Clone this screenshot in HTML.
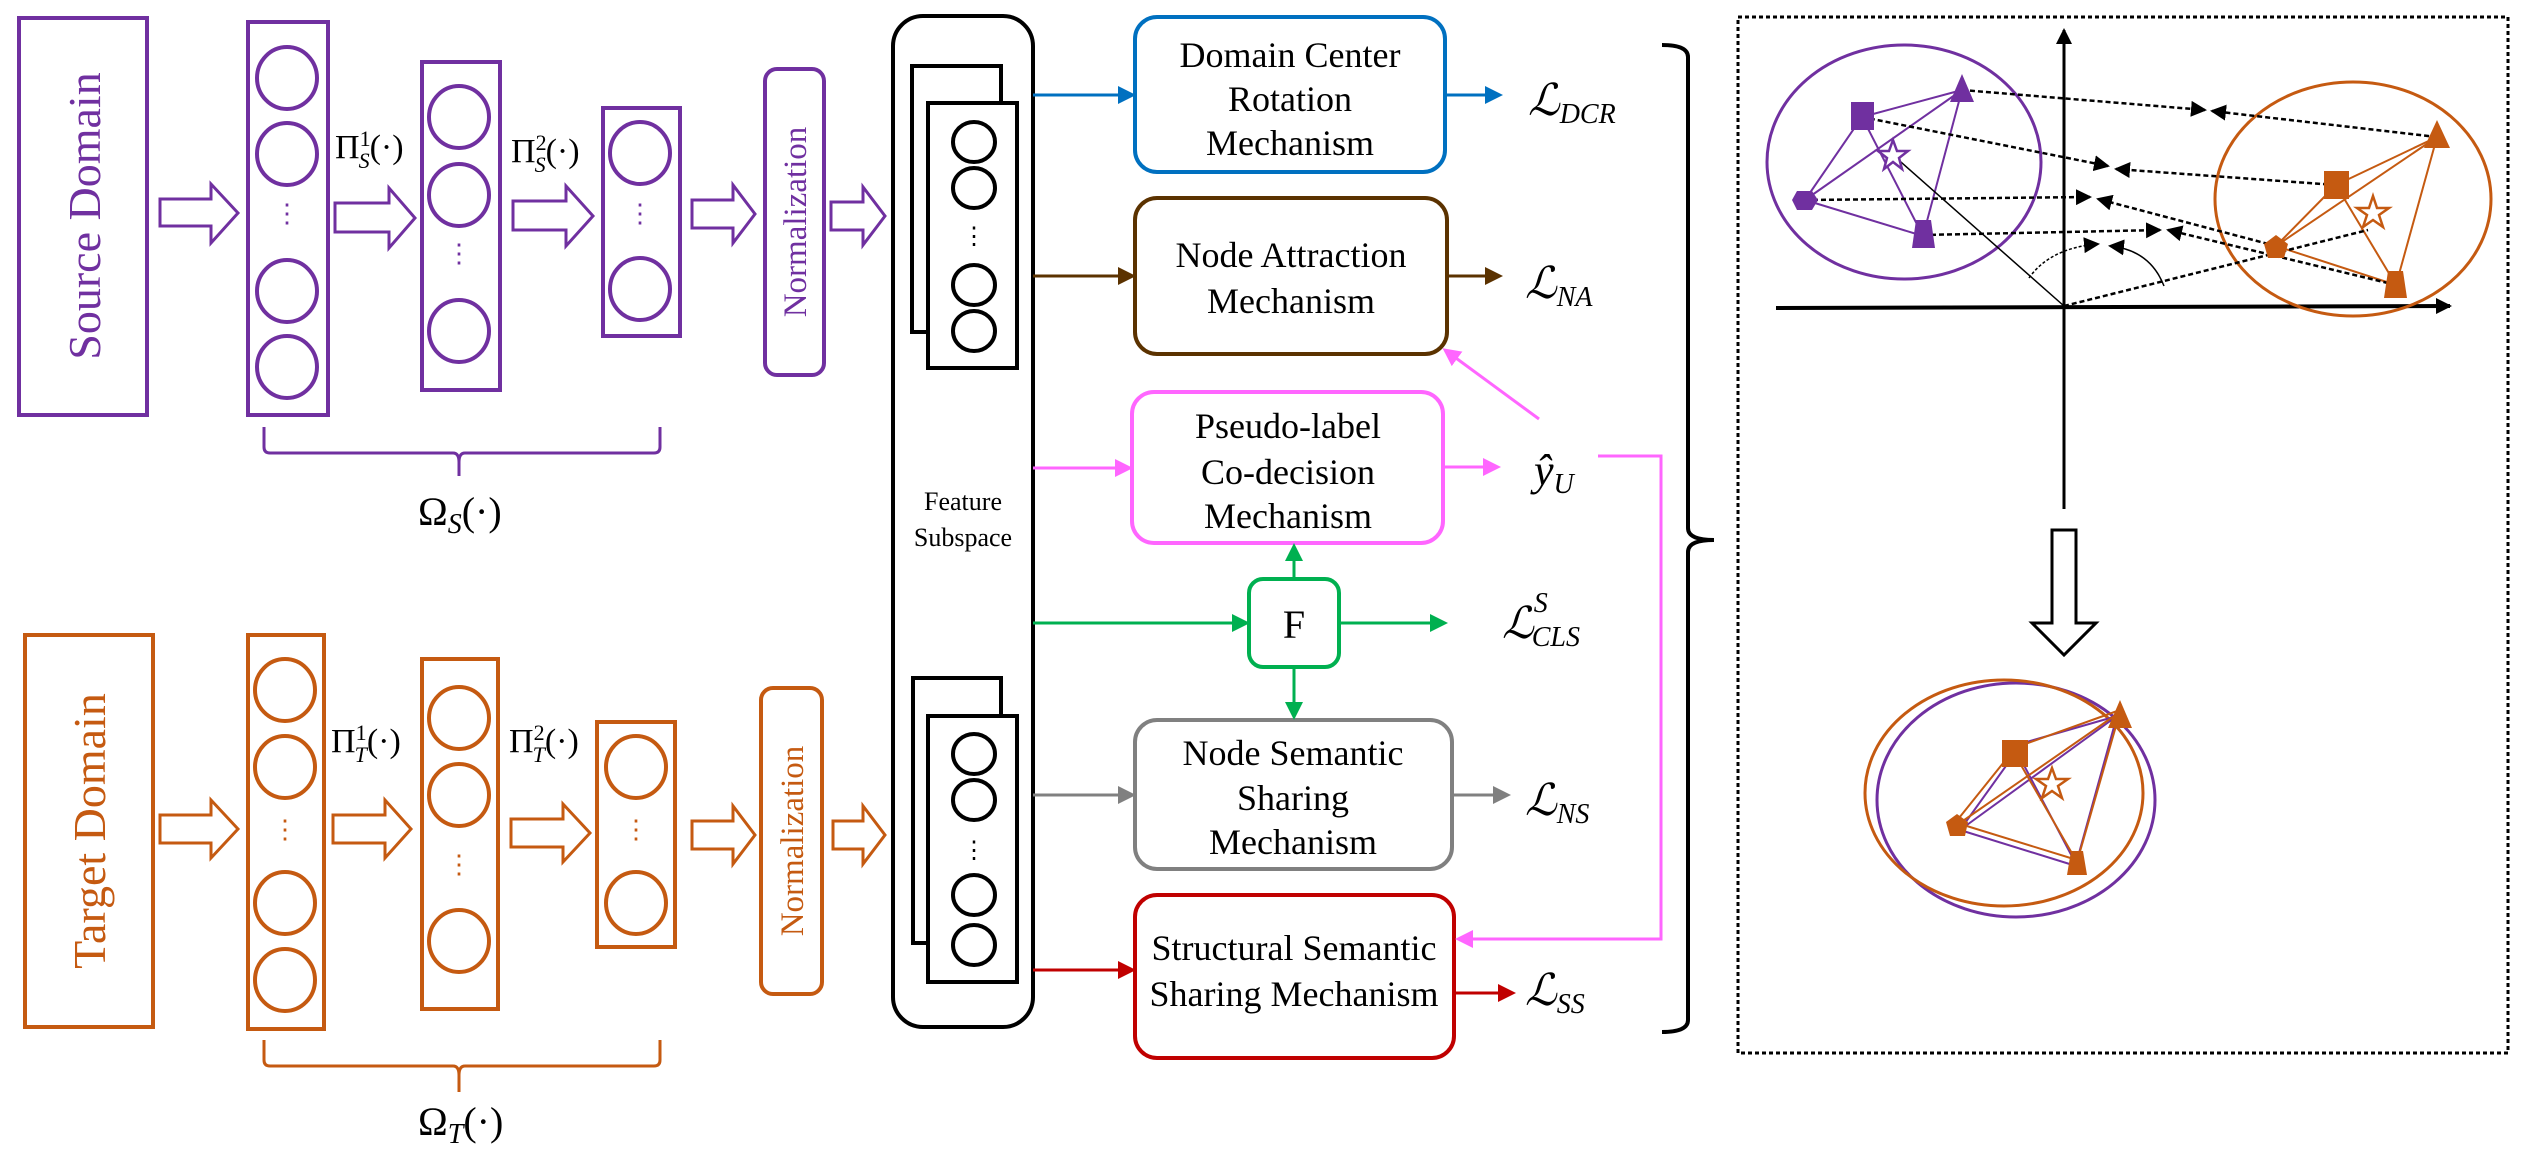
<!DOCTYPE html>
<html><head><meta charset="utf-8"><style>
html,body{margin:0;padding:0;background:#fff;}
svg{display:block;}
.t{font-family:"Liberation Serif","DejaVu Serif",serif;}
</style></head><body>
<svg width="2533" height="1155" viewBox="0 0 2533 1155" xmlns="http://www.w3.org/2000/svg">
<defs>
<marker id="aB" markerWidth="6" markerHeight="6" refX="5" refY="3" orient="auto" markerUnits="strokeWidth"><path d="M0,0 L6,3 L0,6 z" fill="#0070c0"/></marker>
<marker id="aBr" markerWidth="6" markerHeight="6" refX="5" refY="3" orient="auto" markerUnits="strokeWidth"><path d="M0,0 L6,3 L0,6 z" fill="#5b3200"/></marker>
<marker id="aP" markerWidth="6" markerHeight="6" refX="5" refY="3" orient="auto" markerUnits="strokeWidth"><path d="M0,0 L6,3 L0,6 z" fill="#ff66ff"/></marker>
<marker id="aG" markerWidth="6" markerHeight="6" refX="5" refY="3" orient="auto" markerUnits="strokeWidth"><path d="M0,0 L6,3 L0,6 z" fill="#00b050"/></marker>
<marker id="aGr" markerWidth="6" markerHeight="6" refX="5" refY="3" orient="auto" markerUnits="strokeWidth"><path d="M0,0 L6,3 L0,6 z" fill="#808080"/></marker>
<marker id="aR" markerWidth="6" markerHeight="6" refX="5" refY="3" orient="auto" markerUnits="strokeWidth"><path d="M0,0 L6,3 L0,6 z" fill="#c00000"/></marker>
<marker id="aKs" markerWidth="16" markerHeight="16" refX="14" refY="8" orient="auto" markerUnits="userSpaceOnUse"><path d="M0,0 L16,8 L0,16 z" fill="#000"/></marker>
</defs>

<g stroke="#7030a0" stroke-width="4" fill="none">
<rect x="19" y="18" width="128" height="397"/>
<rect x="248" y="22" width="80" height="393"/>
<ellipse cx="287" cy="78" rx="30" ry="31"/><ellipse cx="287" cy="154" rx="30" ry="31"/>
<ellipse cx="287" cy="291" rx="30" ry="31"/><ellipse cx="287" cy="367" rx="30" ry="31"/>
<rect x="422" y="62" width="78" height="328"/>
<ellipse cx="459" cy="117" rx="30" ry="31"/><ellipse cx="459" cy="195" rx="30" ry="31"/><ellipse cx="459" cy="331" rx="30" ry="31"/>
<rect x="603" y="108" width="77" height="228"/>
<ellipse cx="640" cy="153" rx="30" ry="31"/><ellipse cx="640" cy="289" rx="30" ry="31"/>
<rect x="765" y="69" width="59" height="306" rx="12"/>
<g stroke-width="3">
<polygon points="160,199 211,199 211,184 238,213 211,243 211,226 160,226"/>
<polygon points="335,203 389,203 389,188 415,218 389,248 389,232 335,232"/>
<polygon points="513,201 566,201 566,186 593,216 566,246 566,230 513,230"/>
<polygon points="692,200 733,200 733,185 755,214 733,243 733,228 692,228"/>
<polygon points="831,202 863,202 863,187 885,216 863,245 863,230 831,230"/>
</g>
<path d="M264,427 v20 q0,6 6,6 h183 q6,0 6,9 q0,-9 6,-9 h189 q6,0 6,-6 v-20" stroke-width="3"/>
<line x1="459" y1="462" x2="459" y2="476" stroke-width="3"/>
</g>
<g fill="#7030a0" class="t" font-size="26" text-anchor="middle">
<text x="287" y="222">⋮</text><text x="459" y="262">⋮</text><text x="640" y="222">⋮</text>
</g>
<text class="t" transform="translate(100,216) rotate(-90)" text-anchor="middle" font-size="46" fill="#7030a0">Source Domain</text>
<text class="t" transform="translate(806,222) rotate(-90)" text-anchor="middle" font-size="33" fill="#7030a0">Normalization</text>
<text class="t" x="335" y="158" font-size="34">Π<tspan font-size="22" dy="-12">1</tspan><tspan font-size="22" font-style="italic" dx="-12" dy="22">S</tspan><tspan dy="-10">(·)</tspan></text>
<text class="t" x="511" y="162" font-size="34">Π<tspan font-size="22" dy="-12">2</tspan><tspan font-size="22" font-style="italic" dx="-12" dy="22">S</tspan><tspan dy="-10">(·)</tspan></text>
<text class="t" x="418" y="525" font-size="40">Ω<tspan font-size="28" font-style="italic" dy="8">S</tspan><tspan dy="-8">(·)</tspan></text>

<g stroke="#c55a11" stroke-width="4" fill="none">
<rect x="25" y="635" width="128" height="392"/>
<rect x="248" y="635" width="76" height="394"/>
<ellipse cx="285" cy="690" rx="30" ry="31"/><ellipse cx="285" cy="767" rx="30" ry="31"/>
<ellipse cx="285" cy="903" rx="30" ry="31"/><ellipse cx="285" cy="980" rx="30" ry="31"/>
<rect x="422" y="659" width="76" height="350"/>
<ellipse cx="459" cy="718" rx="30" ry="31"/><ellipse cx="459" cy="795" rx="30" ry="31"/><ellipse cx="459" cy="941" rx="30" ry="31"/>
<rect x="597" y="722" width="78" height="225"/>
<ellipse cx="636" cy="767" rx="30" ry="31"/><ellipse cx="636" cy="903" rx="30" ry="31"/>
<rect x="761" y="688" width="61" height="306" rx="12"/>
<g stroke-width="3">
<polygon points="160,815 211,815 211,800 238,829 211,858 211,843 160,843"/>
<polygon points="333,815 385,815 385,800 411,829 385,858 385,843 333,843"/>
<polygon points="511,819 563,819 563,804 590,833 563,862 563,847 511,847"/>
<polygon points="692,821 733,821 733,806 755,835 733,864 733,849 692,849"/>
<polygon points="833,821 863,821 863,806 885,835 863,864 863,849 833,849"/>
</g>
<path d="M264,1040 v20 q0,6 6,6 h183 q6,0 6,9 q0,-9 6,-9 h189 q6,0 6,-6 v-20" stroke-width="3"/>
<line x1="459" y1="1075" x2="459" y2="1092" stroke-width="3"/>
</g>
<g fill="#c55a11" class="t" font-size="26" text-anchor="middle">
<text x="285" y="838">⋮</text><text x="459" y="873">⋮</text><text x="636" y="838">⋮</text>
</g>
<text class="t" transform="translate(105,831) rotate(-90)" text-anchor="middle" font-size="46" fill="#c55a11">Target Domain</text>
<text class="t" transform="translate(803,841) rotate(-90)" text-anchor="middle" font-size="33" fill="#c55a11">Normalization</text>
<text class="t" x="331" y="752" font-size="34">Π<tspan font-size="22" dy="-12">1</tspan><tspan font-size="22" font-style="italic" dx="-12" dy="22">T</tspan><tspan dy="-10">(·)</tspan></text>
<text class="t" x="509" y="752" font-size="34">Π<tspan font-size="22" dy="-12">2</tspan><tspan font-size="22" font-style="italic" dx="-12" dy="22">T</tspan><tspan dy="-10">(·)</tspan></text>
<text class="t" x="418" y="1135" font-size="40">Ω<tspan font-size="28" font-style="italic" dy="8">T</tspan><tspan dy="-8">(·)</tspan></text>

<g stroke="#000" stroke-width="4" fill="none">
<rect x="893" y="16" width="140" height="1011" rx="30"/>
<rect x="912" y="66" width="89" height="266" fill="#fff"/>
<rect x="928" y="103" width="89" height="265" fill="#fff"/>
<ellipse cx="974" cy="142" rx="21" ry="20"/><ellipse cx="974" cy="188" rx="21" ry="20"/>
<ellipse cx="974" cy="285" rx="21" ry="20"/><ellipse cx="974" cy="331" rx="21" ry="20"/>
<rect x="913" y="678" width="88" height="265" fill="#fff"/>
<rect x="928" y="716" width="89" height="266" fill="#fff"/>
<ellipse cx="974" cy="754" rx="21" ry="20"/><ellipse cx="974" cy="800" rx="21" ry="20"/>
<ellipse cx="974" cy="895" rx="21" ry="20"/><ellipse cx="974" cy="945" rx="21" ry="20"/>
</g>
<g class="t" font-size="24" text-anchor="middle"><text x="974" y="244">⋮</text><text x="974" y="858">⋮</text></g>
<text class="t" x="963" y="510" font-size="26" text-anchor="middle">Feature</text>
<text class="t" x="963" y="546" font-size="26" text-anchor="middle">Subspace</text>

<g fill="none" stroke-width="4">
<rect x="1135" y="17" width="310" height="155" rx="22" stroke="#0070c0"/>
<rect x="1135" y="198" width="312" height="156" rx="22" stroke="#5b3200"/>
<rect x="1132" y="392" width="311" height="151" rx="22" stroke="#ff66ff"/>
<rect x="1249" y="579" width="90" height="88" rx="14" stroke="#00b050"/>
<rect x="1135" y="720" width="317" height="149" rx="22" stroke="#808080"/>
<rect x="1135" y="895" width="319" height="163" rx="22" stroke="#c00000"/>
</g>
<g class="t" font-size="36" text-anchor="middle">
<text x="1290" y="67">Domain Center</text><text x="1290" y="111">Rotation</text><text x="1290" y="155">Mechanism</text>
<text x="1291" y="267">Node Attraction</text><text x="1291" y="313">Mechanism</text>
<text x="1288" y="438">Pseudo-label</text><text x="1288" y="484">Co-decision</text><text x="1288" y="528">Mechanism</text>
<text x="1294" y="638" font-size="40">F</text>
<text x="1293" y="765">Node Semantic</text><text x="1293" y="810">Sharing</text><text x="1293" y="854">Mechanism</text>
<text x="1294" y="960">Structural Semantic</text><text x="1294" y="1006">Sharing Mechanism</text>
</g>

<g fill="none" stroke-width="3">
<line x1="1033" y1="95" x2="1133" y2="95" stroke="#0070c0" marker-end="url(#aB)"/>
<line x1="1445" y1="95" x2="1500" y2="95" stroke="#0070c0" marker-end="url(#aB)"/>
<line x1="1033" y1="276" x2="1133" y2="276" stroke="#5b3200" marker-end="url(#aBr)"/>
<line x1="1447" y1="276" x2="1500" y2="276" stroke="#5b3200" marker-end="url(#aBr)"/>
<line x1="1033" y1="468" x2="1130" y2="468" stroke="#ff66ff" marker-end="url(#aP)"/>
<line x1="1443" y1="467" x2="1498" y2="467" stroke="#ff66ff" marker-end="url(#aP)"/>
<line x1="1539" y1="419" x2="1445" y2="350" stroke="#ff66ff" marker-end="url(#aP)"/>
<polyline points="1598,456 1661,456 1661,939 1458,939" stroke="#ff66ff" marker-end="url(#aP)"/>
<line x1="1033" y1="623" x2="1247" y2="623" stroke="#00b050" marker-end="url(#aG)"/>
<line x1="1339" y1="623" x2="1445" y2="623" stroke="#00b050" marker-end="url(#aG)"/>
<line x1="1294" y1="579" x2="1294" y2="546" stroke="#00b050" marker-end="url(#aG)"/>
<line x1="1294" y1="667" x2="1294" y2="717" stroke="#00b050" marker-end="url(#aG)"/>
<line x1="1033" y1="795" x2="1133" y2="795" stroke="#808080" marker-end="url(#aGr)"/>
<line x1="1452" y1="795" x2="1508" y2="795" stroke="#808080" marker-end="url(#aGr)"/>
<line x1="1033" y1="970" x2="1133" y2="970" stroke="#c00000" marker-end="url(#aR)"/>
<line x1="1454" y1="993" x2="1513" y2="993" stroke="#c00000" marker-end="url(#aR)"/>
</g>

<g class="t" font-size="44" font-style="italic">
<text x="1528" y="115">ℒ<tspan font-size="28" dy="8">DCR</tspan></text>
<text x="1525" y="298">ℒ<tspan font-size="28" dy="8">NA</tspan></text>
<text x="1534" y="485">ŷ<tspan font-size="28" dy="8">U</tspan></text>
<text x="1502" y="638">ℒ<tspan font-size="28" dy="-26">S</tspan><tspan font-size="28" dx="-16" dy="34">CLS</tspan></text>
<text x="1525" y="815">ℒ<tspan font-size="28" dy="8">NS</tspan></text>
<text x="1525" y="1005">ℒ<tspan font-size="28" dy="8">SS</tspan></text>
</g>

<path d="M1662,45 q26,0 26,12 v471 q0,12 26,12 q-26,0 -26,12 v468 q0,12 -26,12" fill="none" stroke="#000" stroke-width="4"/>

<rect x="1738" y="17" width="770" height="1036" fill="none" stroke="#000" stroke-width="3" stroke-dasharray="4,3"/>
<line x1="2064" y1="509" x2="2064" y2="30" stroke="#000" stroke-width="3" marker-end="url(#aKs)"/>
<line x1="1776" y1="308" x2="2450" y2="306" stroke="#000" stroke-width="4" marker-end="url(#aKs)"/>
<ellipse cx="1904" cy="162" rx="137" ry="117" fill="none" stroke="#7030a0" stroke-width="3"/>
<ellipse cx="2353" cy="199" rx="138" ry="117" fill="none" stroke="#c55a11" stroke-width="3"/>

<g stroke="#7030a0" stroke-width="2" fill="none">
<line x1="1862" y1="117" x2="1962" y2="90"/><line x1="1862" y1="117" x2="1923" y2="236"/>
<line x1="1862" y1="117" x2="1805" y2="200"/><line x1="1805" y1="200" x2="1962" y2="90"/>
<line x1="1805" y1="200" x2="1923" y2="236"/><line x1="1962" y1="90" x2="1923" y2="236"/>
</g>
<g stroke="#c55a11" stroke-width="2" fill="none">
<line x1="2336" y1="185" x2="2437" y2="137"/><line x1="2336" y1="185" x2="2396" y2="285"/>
<line x1="2336" y1="185" x2="2276" y2="246"/><line x1="2276" y1="246" x2="2437" y2="137"/>
<line x1="2276" y1="246" x2="2396" y2="285"/><line x1="2437" y1="137" x2="2396" y2="285"/>
</g>
<g stroke="#000" stroke-width="2.5" fill="none" stroke-dasharray="5,3">
<line x1="1962" y1="90" x2="2205" y2="110" marker-end="url(#aKs)"/>
<line x1="2437" y1="137" x2="2212" y2="111" marker-end="url(#aKs)"/>
<line x1="1862" y1="117" x2="2108" y2="166" marker-end="url(#aKs)"/>
<line x1="2336" y1="185" x2="2116" y2="169" marker-end="url(#aKs)"/>
<line x1="1805" y1="200" x2="2090" y2="197" marker-end="url(#aKs)"/>
<line x1="2276" y1="246" x2="2098" y2="199" marker-end="url(#aKs)"/>
<line x1="1923" y1="235" x2="2160" y2="230" marker-end="url(#aKs)"/>
<line x1="2396" y1="285" x2="2168" y2="230" marker-end="url(#aKs)"/>
<line x1="2064" y1="306" x2="2368" y2="230"/>
</g>
<line x1="2064" y1="306" x2="1893" y2="155" stroke="#000" stroke-width="1.5"/>
<path d="M2029,278 Q2050,248 2098,244" fill="none" stroke="#000" stroke-width="1.5" stroke-dasharray="3,2" marker-end="url(#aKs)"/>
<path d="M2164,286 Q2150,250 2110,246" fill="none" stroke="#000" stroke-width="1.5" marker-end="url(#aKs)"/>

<g fill="#7030a0">
<polygon points="1962,74 1974,102 1950,102"/>
<rect x="1851" y="102" width="23" height="28"/>
<polygon points="1797,191 1812,191 1818,200 1812,210 1797,210 1792,200"/>
<polygon points="1916,220 1931,220 1935,248 1912,248"/>
</g>
<polygon points="1893,140 1897,151 1908,151 1899,158 1902,169 1893,162 1884,169 1887,158 1878,151 1889,151" fill="#fff" stroke="#7030a0" stroke-width="2.5"/>
<g fill="#c55a11">
<polygon points="2437,120 2450,148 2424,148"/>
<rect x="2324" y="171" width="25" height="28"/>
<polygon points="2276,235 2288,244 2284,258 2268,258 2264,244"/>
<polygon points="2388,271 2403,271 2407,298 2384,298"/>
</g>
<polygon points="2373,196 2377,208 2389,208 2379,215 2383,227 2373,220 2363,227 2367,215 2357,208 2369,208" fill="#fff" stroke="#c55a11" stroke-width="2.5"/>

<polygon points="2052,530 2076,530 2076,623 2096,623 2064,655 2032,623 2052,623" fill="#fff" stroke="#000" stroke-width="3"/>

<ellipse cx="2016" cy="800" rx="139" ry="117" fill="none" stroke="#7030a0" stroke-width="3"/>
<ellipse cx="2004" cy="793" rx="139" ry="113" fill="none" stroke="#c55a11" stroke-width="3"/>
<g stroke="#7030a0" stroke-width="2" fill="none">
<line x1="2016" y1="745" x2="2117" y2="716"/><line x1="2016" y1="752" x2="1960" y2="830"/>
<line x1="1960" y1="830" x2="2076" y2="866"/><line x1="1960" y1="830" x2="2117" y2="716"/>
<line x1="2017" y1="752" x2="2076" y2="864"/><line x1="2117" y1="716" x2="2076" y2="864"/>
</g>
<g stroke="#c55a11" stroke-width="2" fill="none">
<line x1="2014" y1="748" x2="2120" y2="710"/><line x1="2012" y1="752" x2="1955" y2="823"/>
<line x1="1957" y1="823" x2="2077" y2="860"/><line x1="1957" y1="825" x2="2120" y2="712"/>
<line x1="2014" y1="753" x2="2077" y2="862"/><line x1="2120" y1="712" x2="2077" y2="862"/>
</g>
<g fill="#c55a11">
<polygon points="2120,700 2132,728 2108,728"/>
<rect x="2002" y="740" width="26" height="27"/>
<polygon points="1957,814 1968,822 1965,836 1950,836 1946,822"/>
<polygon points="2071,851 2083,851 2087,875 2067,875"/>
</g>
<polygon points="2052,768 2056,779 2068,779 2058,786 2062,798 2052,791 2042,798 2046,786 2036,779 2048,779" fill="#fff" stroke="#c55a11" stroke-width="2.5"/>
</svg>
</body></html>
